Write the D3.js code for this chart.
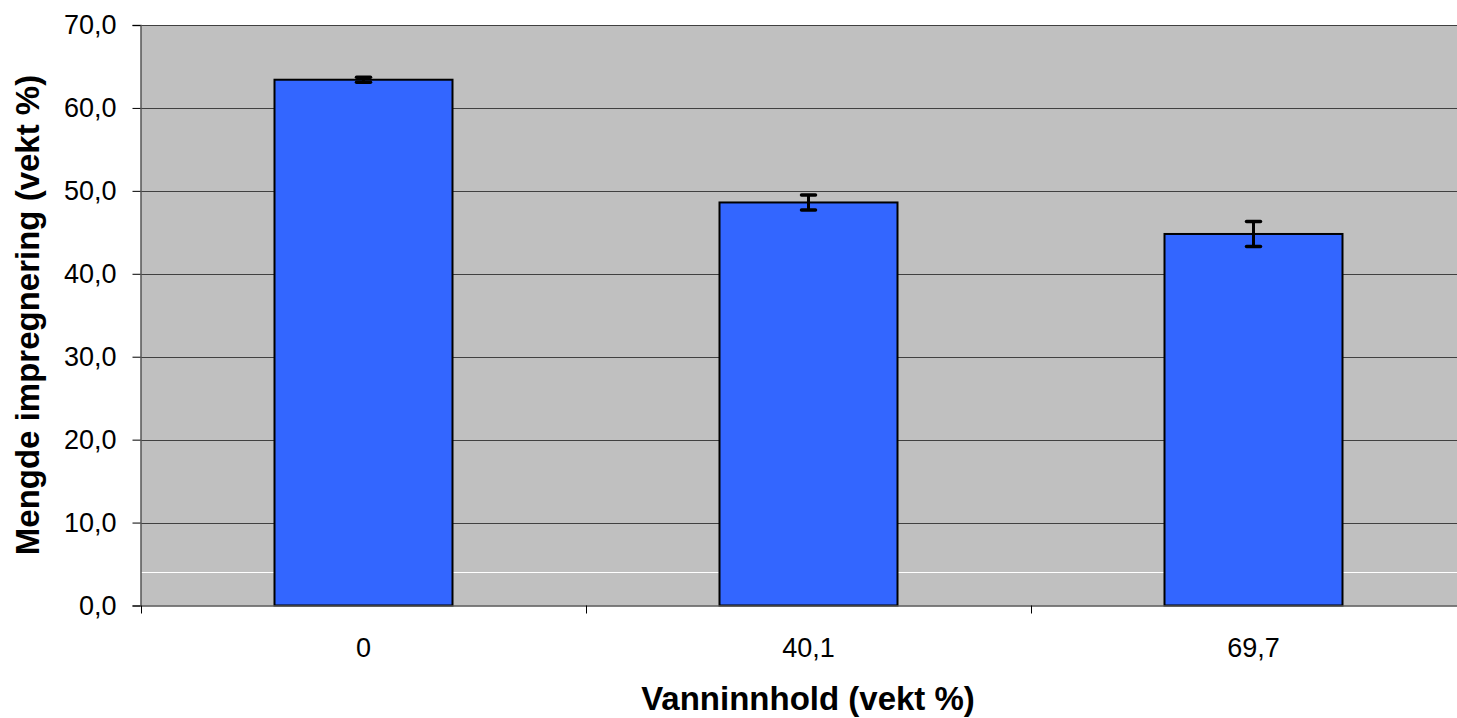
<!DOCTYPE html>
<html>
<head>
<meta charset="utf-8">
<script src="https://cdn.jsdelivr.net/npm/d3@7"></script>
<style>
  body { margin: 0; background: #fff; }
  text { font-family: "Liberation Sans", Arial, sans-serif; }
</style>
</head>
<body>
<script>
var categories = ["0", "40,1", "69,7"];
var values = [63.4, 48.6, 44.8];
var errors = [0.3, 0.9, 1.5];
var yTicks = [0, 10, 20, 30, 40, 50, 60, 70];
var whiteLine = 4.0;

var W = 1457, H = 718;
var margin = {top: 25, left: 141},
    plotRight = 1476,
    plotBottom = 605.5;

var svg = d3.select("body").append("svg")
    .attr("width", W)
    .attr("height", H);

var x = d3.scaleBand()
    .domain(categories)
    .range([margin.left, plotRight])
    .paddingInner(0.6)
    .paddingOuter(0.3);

// band scale for ticks/categories without padding
var xb = d3.scaleBand()
    .domain(categories)
    .range([margin.left, plotRight]);

var y = d3.scaleLinear()
    .domain([0, 70])
    .range([plotBottom, margin.top]);

// plot background
svg.append("rect")
    .attr("x", margin.left)
    .attr("y", margin.top)
    .attr("width", plotRight - margin.left)
    .attr("height", plotBottom - margin.top)
    .attr("fill", "#c0c0c0");

// gridlines
svg.append("g")
    .selectAll("line")
    .data(yTicks.filter(function(d) { return d > 0; }))
    .enter().append("line")
    .attr("x1", margin.left)
    .attr("x2", plotRight)
    .attr("y1", function(d) { return Math.round(y(d)) + 0.5; })
    .attr("y2", function(d) { return Math.round(y(d)) + 0.5; })
    .attr("stroke", "#404040")
    .attr("stroke-width", 1);

svg.append("line")
    .attr("x1", margin.left)
    .attr("x2", plotRight)
    .attr("y1", Math.round(y(whiteLine)) + 0.5)
    .attr("y2", Math.round(y(whiteLine)) + 0.5)
    .attr("stroke", "#ffffff")
    .attr("stroke-width", 1);

// bars
svg.append("g")
    .selectAll("rect")
    .data(values)
    .enter().append("rect")
    .attr("x", function(d, i) { return x(categories[i]); })
    .attr("y", function(d) { return y(d); })
    .attr("width", x.bandwidth())
    .attr("height", function(d) { return plotBottom - y(d); })
    .attr("fill", "#3366ff")
    .attr("stroke", "#000")
    .attr("stroke-width", 2);

// error bars
var eb = svg.append("g")
    .selectAll("g")
    .data(values)
    .enter().append("g");

eb.append("line")
    .attr("x1", function(d, i) { return x(categories[i]) + x.bandwidth() / 2; })
    .attr("x2", function(d, i) { return x(categories[i]) + x.bandwidth() / 2; })
    .attr("y1", function(d, i) { return y(d + errors[i]); })
    .attr("y2", function(d, i) { return y(d - errors[i]); })
    .attr("stroke", "#000")
    .attr("stroke-width", 3);

[1, -1].forEach(function(s) {
  eb.append("line")
      .attr("x1", function(d, i) { return x(categories[i]) + x.bandwidth() / 2 - 7; })
      .attr("x2", function(d, i) { return x(categories[i]) + x.bandwidth() / 2 + 7; })
      .attr("y1", function(d, i) { return y(d + s * errors[i]); })
      .attr("y2", function(d, i) { return y(d + s * errors[i]); })
      .attr("stroke", "#000")
      .attr("stroke-width", 3.5)
      .attr("stroke-linecap", "round");
});

// y axis
var yAxis = svg.append("g")
    .attr("transform", "translate(" + (margin.left - 0.5) + ",0)")
    .call(d3.axisLeft(y)
        .tickValues(yTicks)
        .tickSize(8)
        .tickPadding(16)
        .tickFormat(function(d) { return d3.format(".1f")(d).replace(".", ","); }));

// x axis
var xAxis = svg.append("g")
    .attr("transform", "translate(0," + (plotBottom) + ")")
    .call(d3.axisBottom(xb).tickSize(0).tickPadding(32));

svg.append("g")
    .selectAll("line")
    .data(categories)
    .enter().append("line")
    .attr("x1", function(d) { return Math.round(xb(d)) + 0.5; })
    .attr("x2", function(d) { return Math.round(xb(d)) + 0.5; })
    .attr("y1", plotBottom)
    .attr("y2", plotBottom + 8)
    .attr("stroke", "#000");

[yAxis, xAxis].forEach(function(a) {
  a.selectAll("text")
      .attr("font-size", 27)
      .attr("fill", "#000")
      .style("font-family", "'Liberation Sans', Arial, sans-serif");
  a.select(".domain").attr("stroke", "#555").attr("stroke-width", 1.5);
  a.selectAll(".tick line").attr("stroke", "#000");
});

// axis titles
svg.append("text")
    .attr("x", 808)
    .attr("y", 710)
    .attr("text-anchor", "middle")
    .attr("font-size", 33)
    .attr("font-weight", "bold")
    .text("Vanninnhold (vekt %)");

svg.append("text")
    .attr("transform", "translate(39,315) rotate(-90)")
    .attr("text-anchor", "middle")
    .attr("font-size", 33)
    .attr("font-weight", "bold")
    .text("Mengde impregnering (vekt %)");
</script>
</body>
</html>
